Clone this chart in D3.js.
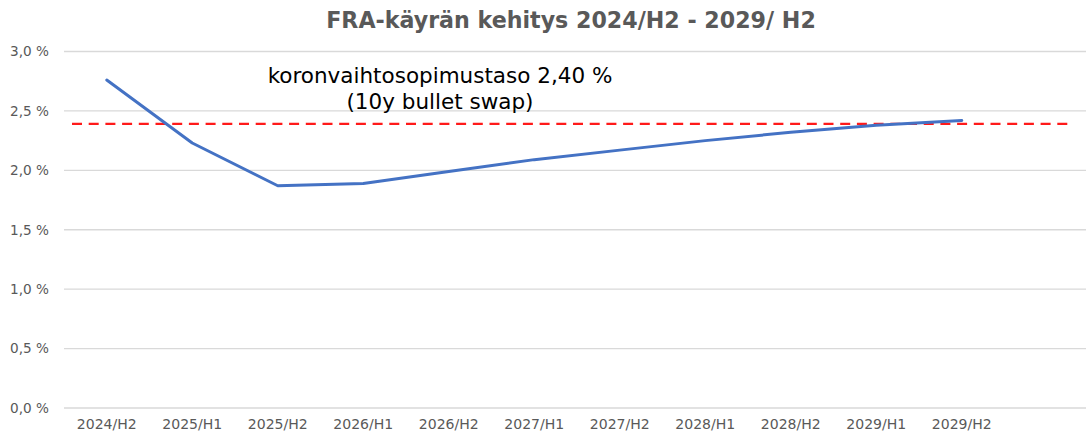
<!DOCTYPE html>
<html>
<head>
<meta charset="utf-8">
<script src="https://cdn.jsdelivr.net/npm/d3@7"></script>
<style>
  html, body { margin: 0; padding: 0; background: #fff; }
  svg { display: block; }
</style>
</head>
<body>
<svg id="chart" width="1086" height="435"></svg>
<script>
const categories = ["2024/H2","2025/H1","2025/H2","2026/H1","2026/H2","2027/H1","2027/H2","2028/H1","2028/H2","2029/H1","2029/H2"];
const fraValues = [2.76, 2.23, 1.87, 1.89, 1.99, 2.09, 2.17, 2.25, 2.32, 2.38, 2.42];
const swapLevel = 2.40;
const yTicks = [0, 0.5, 1.0, 1.5, 2.0, 2.5, 3.0];
const titleText = "FRA-käyrän kehitys 2024/H2 - 2029/ H2";
const annotationLines = ["koronvaihtosopimustaso 2,40 %", "(10y bullet swap)"];

(function () {
const svg = d3.select("#chart");
const plotLeft = 64, plotRight = 1086, plotTop = 51.5, plotBottom = 408;
const step = 85.5;

const x = d3.scaleBand().domain(categories).range([plotLeft, plotLeft + step * categories.length]).padding(0);
const cx = c => x(c) + x.bandwidth() / 2;
const y = d3.scaleLinear().domain([0, 3]).range([plotBottom, plotTop]);

const font = "'DejaVu Sans', 'Open Sans', sans-serif";

// fit a font size so a sample string reaches a target width
function fitSize(text, target, weight) {
  const t = svg.append("text").style("font-family", font).style("font-weight", weight || "normal")
    .style("font-size", "20px").text(text);
  const w = t.node().getComputedTextLength();
  t.remove();
  return 20 * target / w;
}
const tickSizeX = fitSize("2024/H2", 60);
const tickSizeY = fitSize("3,0 %", 39);
const titleSize = fitSize(titleText, 490, "bold");
const annSize = fitSize(annotationLines[0], 345);

// gridlines
svg.append("g").selectAll("line").data(yTicks).join("line")
  .attr("x1", plotLeft).attr("x2", plotRight)
  .attr("y1", d => y(d)).attr("y2", d => y(d))
  .attr("stroke", "#d9d9d9").attr("stroke-width", 1.3);

// y axis labels
const fmt = d => d3.format(".1f")(d).replace(".", ",") + " %";
const yAxis = d3.axisLeft(y).tickValues(yTicks).tickFormat(fmt).tickSize(0).tickPadding(0);
const yg = svg.append("g").attr("transform", "translate(49,0)").call(yAxis);
yg.select(".domain").remove();
yg.selectAll("text").attr("fill", "#595959").style("font-family", font).style("font-size", tickSizeY + "px");

// x axis labels
const xAxis = d3.axisBottom(x).tickSize(0).tickPadding(0);
const xg = svg.append("g").attr("transform", `translate(0,${plotBottom + 11})`).call(xAxis);
xg.select(".domain").remove();
xg.selectAll("text").attr("fill", "#595959").style("font-family", font).style("font-size", tickSizeX + "px");

// swap level dashed line
svg.append("line")
  .attr("x1", 72).attr("x2", 1068)
  .attr("y1", y(swapLevel) + 1).attr("y2", y(swapLevel) + 1)
  .attr("stroke", "#ff1a1a").attr("stroke-width", 2.2)
  .attr("stroke-dasharray", "10,6.7");

// FRA line
const line = d3.line().x((d, i) => cx(categories[i])).y(d => y(d));
svg.append("path").datum(fraValues)
  .attr("d", line)
  .attr("fill", "none")
  .attr("stroke", "#4472c4")
  .attr("stroke-width", 3)
  .attr("stroke-linejoin", "round")
  .attr("stroke-linecap", "round");

// title
svg.append("text")
  .attr("x", 571).attr("y", 28)
  .attr("text-anchor", "middle")
  .attr("fill", "#595959")
  .style("font-family", font).style("font-weight", "bold").style("font-size", titleSize + "px")
  .text(titleText);

// annotation
svg.append("g").selectAll("text").data(annotationLines).join("text")
  .attr("x", 440).attr("y", (d, i) => 83 + i * 26)
  .attr("text-anchor", "middle")
  .attr("fill", "#000")
  .style("font-family", font).style("font-size", annSize + "px")
  .text(d => d);
})();
</script>
</body>
</html>
